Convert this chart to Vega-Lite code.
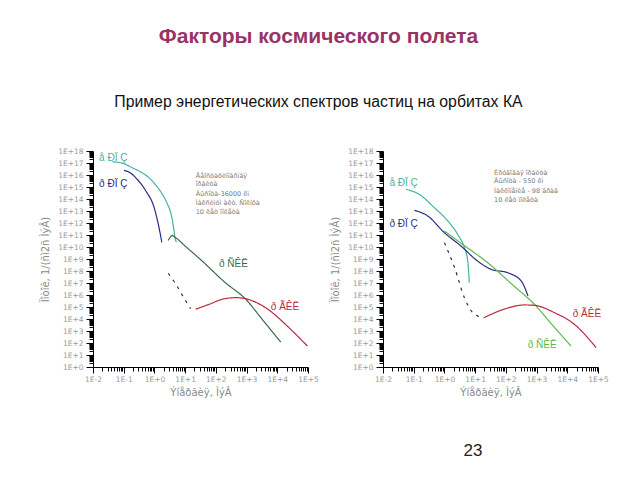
{
  "$schema": "https://vega.github.io/schema/vega-lite/v6.json",
  "padding": {"left": 40, "top": 26, "right": 5, "bottom": 5},
  "background": "white",
  "title": {
    "text": "Факторы космического полета",
    "subtitle": "Пример энергетических спектров частиц на орбитах КА",
    "anchor": "middle",
    "frame": "bounds",
    "dx": -6,
    "font": "Liberation Sans",
    "fontSize": 21,
    "fontWeight": "bold",
    "color": "#993366",
    "subtitleFont": "Liberation Sans",
    "subtitleFontSize": 15.8,
    "subtitleColor": "#111111",
    "subtitlePadding": 48,
    "offset": 37
  },
  "config": {
    "view": {"stroke": null},
    "axis": {
      "grid": false,
      "domainColor": "#000000",
      "domainWidth": 1,
      "tickColor": "#000000",
      "tickWidth": 1,
      "labelColor": "#9a9a9a",
      "labelFont": "DejaVu Sans",
      "labelFontSize": 7.5,
      "labelOverlap": false,
      "labelFlush": false,
      "labelBound": false,
      "titleColor": "#8a8a8a",
      "titleFont": "DejaVu Sans",
      "titleFontSize": 10,
      "titleFontWeight": "normal"
    }
  },
  "datasets": {
    "curves": [
      {"panel": "L", "series": "eRPZ", "E": 0.0427, "F": 1.26e17},
      {"panel": "L", "series": "eRPZ", "E": 0.1, "F": 8.9e16},
      {"panel": "L", "series": "eRPZ", "E": 0.19, "F": 4e16},
      {"panel": "L", "series": "eRPZ", "E": 0.355, "F": 1.8e16},
      {"panel": "L", "series": "eRPZ", "E": 0.66, "F": 6e15},
      {"panel": "L", "series": "eRPZ", "E": 1.12, "F": 1.4e15},
      {"panel": "L", "series": "eRPZ", "E": 1.82, "F": 2.45e14},
      {"panel": "L", "series": "eRPZ", "E": 2.63, "F": 4e13},
      {"panel": "L", "series": "eRPZ", "E": 3.39, "F": 7.2e12},
      {"panel": "L", "series": "eRPZ", "E": 3.98, "F": 1e12},
      {"panel": "L", "series": "eRPZ", "E": 4.37, "F": 2.1e11},
      {"panel": "L", "series": "eRPZ", "E": 4.68, "F": 6e10},
      {"panel": "L", "series": "eRPZ", "E": 5.25, "F": 2.5e10},
      {"panel": "L", "series": "pRPZ", "E": 0.102, "F": 2.45e16},
      {"panel": "L", "series": "pRPZ", "E": 0.158, "F": 1.6e16},
      {"panel": "L", "series": "pRPZ", "E": 0.245, "F": 6e15},
      {"panel": "L", "series": "pRPZ", "E": 0.525, "F": 4.7e14},
      {"panel": "L", "series": "pRPZ", "E": 0.98, "F": 1.9e13},
      {"panel": "L", "series": "pRPZ", "E": 1.41, "F": 4.1e11},
      {"panel": "L", "series": "pRPZ", "E": 1.74, "F": 2.45e10},
      {"panel": "L", "series": "pSKL", "E": 2.82, "F": 3.5e10},
      {"panel": "L", "series": "pSKL", "E": 3.8, "F": 8.9e10},
      {"panel": "L", "series": "pSKL", "E": 4.9, "F": 6e10},
      {"panel": "L", "series": "pSKL", "E": 10, "F": 1.2e10},
      {"panel": "L", "series": "pSKL", "E": 31.6, "F": 9.1e8},
      {"panel": "L", "series": "pSKL", "E": 200, "F": 1.1e7},
      {"panel": "L", "series": "pSKL", "E": 933, "F": 4.5e5},
      {"panel": "L", "series": "pSKL", "E": 3162, "F": 1e4},
      {"panel": "L", "series": "pSKL", "E": 12900, "F": 120},
      {"panel": "L", "series": "pGKL", "E": 21.9, "F": 6.5e4},
      {"panel": "L", "series": "pGKL", "E": 60, "F": 1.66e5},
      {"panel": "L", "series": "pGKL", "E": 162, "F": 4.4e5},
      {"panel": "L", "series": "pGKL", "E": 447, "F": 6e5},
      {"panel": "L", "series": "pGKL", "E": 933, "F": 4.9e5},
      {"panel": "L", "series": "pGKL", "E": 4170, "F": 8.7e4},
      {"panel": "L", "series": "pGKL", "E": 24000, "F": 1.9e3},
      {"panel": "L", "series": "pGKL", "E": 95500, "F": 56},
      {"panel": "L", "series": "dash", "E": 2.82, "F": 6.3e7},
      {"panel": "L", "series": "dash", "E": 5, "F": 7.9e6},
      {"panel": "L", "series": "dash", "E": 8.9, "F": 6.3e5},
      {"panel": "L", "series": "dash", "E": 15.1, "F": 7.1e4},
      {"panel": "R", "series": "eRPZ", "E": 0.056, "F": 6.5e14},
      {"panel": "R", "series": "eRPZ", "E": 0.151, "F": 2.45e14},
      {"panel": "R", "series": "eRPZ", "E": 0.468, "F": 1.9e13},
      {"panel": "R", "series": "eRPZ", "E": 1.29, "F": 1.48e12},
      {"panel": "R", "series": "eRPZ", "E": 2.69, "F": 1.15e11},
      {"panel": "R", "series": "eRPZ", "E": 4.47, "F": 8.7e9},
      {"panel": "R", "series": "eRPZ", "E": 5.75, "F": 6.8e8},
      {"panel": "R", "series": "eRPZ", "E": 6.46, "F": 1.07e7},
      {"panel": "R", "series": "pRPZ", "E": 0.105, "F": 1.15e13},
      {"panel": "R", "series": "pRPZ", "E": 0.288, "F": 3.8e12},
      {"panel": "R", "series": "pRPZ", "E": 1.0, "F": 1.55e11},
      {"panel": "R", "series": "pRPZ", "E": 3.47, "F": 1.2e10},
      {"panel": "R", "series": "pRPZ", "E": 12, "F": 6.8e8},
      {"panel": "R", "series": "pRPZ", "E": 33, "F": 1.38e8},
      {"panel": "R", "series": "pRPZ", "E": 115, "F": 7.2e7},
      {"panel": "R", "series": "pRPZ", "E": 316, "F": 1.48e7},
      {"panel": "R", "series": "pRPZ", "E": 525, "F": 8.3e5},
      {"panel": "R", "series": "pSKL", "E": 1.0, "F": 2.1e11},
      {"panel": "R", "series": "pSKL", "E": 5.0, "F": 1.05e10},
      {"panel": "R", "series": "pSKL", "E": 25.7, "F": 4.9e8},
      {"panel": "R", "series": "pSKL", "E": 158, "F": 7.8e6},
      {"panel": "R", "series": "pSKL", "E": 851, "F": 1.66e5},
      {"panel": "R", "series": "pSKL", "E": 3162, "F": 3.5e3},
      {"panel": "R", "series": "pSKL", "E": 13200, "F": 56},
      {"panel": "R", "series": "dash", "E": 1.0, "F": 2.3e10},
      {"panel": "R", "series": "dash", "E": 2.14, "F": 1.9e8},
      {"panel": "R", "series": "dash", "E": 4.47, "F": 6e5},
      {"panel": "R", "series": "dash", "E": 9.55, "F": 2.45e4},
      {"panel": "R", "series": "dash", "E": 19.5, "F": 1.3e4},
      {"panel": "R", "series": "pGKL", "E": 19.5, "F": 1.3e4},
      {"panel": "R", "series": "pGKL", "E": 87, "F": 6.5e4},
      {"panel": "R", "series": "pGKL", "E": 398, "F": 1.48e5},
      {"panel": "R", "series": "pGKL", "E": 851, "F": 1.38e5},
      {"panel": "R", "series": "pGKL", "E": 3800, "F": 3.4e4},
      {"panel": "R", "series": "pGKL", "E": 17000, "F": 3.6e3},
      {"panel": "R", "series": "pGKL", "E": 87000, "F": 41}
    ],
    "labels": [
      {"panel": "L", "series": "eRPZ", "E": 0.0158, "F": 2.5e17, "t": "å ÐÏ Ç"},
      {"panel": "L", "series": "pRPZ", "E": 0.0158, "F": 1.66e15, "t": "ð ÐÏ Ç"},
      {"panel": "L", "series": "pSKL", "E": 126, "F": 3.6e8, "t": "ð ÑÊË"},
      {"panel": "L", "series": "pGKL", "E": 6170, "F": 1.07e5, "t": "ð ÃÊË"},
      {"panel": "R", "series": "eRPZ", "E": 0.0162, "F": 2.3e15, "t": "å ÐÏ Ç"},
      {"panel": "R", "series": "pRPZ", "E": 0.0162, "F": 7.8e11, "t": "ð ÐÏ Ç"},
      {"panel": "R", "series": "pGKL", "E": 15100, "F": 2.45e4, "t": "ð ÃÊË"},
      {"panel": "R", "series": "pSKL", "E": 513, "F": 68, "t": "ð ÑÊË"}
    ],
    "notes": [
      {"panel": "L", "E": 22.1, "F": 8.3e15, "t": "Ãåîñòàöèîíàðíàÿ"},
      {"panel": "L", "E": 22.1, "F": 1.66e15, "t": "îðáèòà"},
      {"panel": "L", "E": 22.1, "F": 2.45e14, "t": "Âûñîòà-36000 êì"},
      {"panel": "L", "E": 22.1, "F": 4.4e13, "t": "Ìàêñèìóì àêò. Ñîëíöà"},
      {"panel": "L", "E": 22.1, "F": 8.3e12, "t": "10 ëåò ïîëåòà"},
      {"panel": "R", "E": 41.3, "F": 1.55e16, "t": "Êðóãîâàÿ îðáèòà"},
      {"panel": "R", "E": 41.3, "F": 3.16e15, "t": "Âûñîòà - 550 êì"},
      {"panel": "R", "E": 41.3, "F": 4.7e14, "t": "Íàêëîíåíèå - 98 ãðàä"},
      {"panel": "R", "E": 41.3, "F": 7.8e13, "t": "10 ëåò ïîëåòà"}
    ],
    "page": [
      {"E": 8.5, "F": 1e-7, "t": "23"}
    ]
  },
  "spacing": 11,
  "resolve": {"scale": {"color": "independent", "strokeDash": "independent"}},
  "hconcat": [
    {
      "width": 215,
      "height": 216,
      "encoding": {
        "x": {
          "field": "E", "type": "quantitative",
          "scale": {"type": "log", "domain": [0.01, 100000], "nice": false},
          "axis": {
            "title": "Ýíåðãèÿ, ÌýÂ",
            "titlePadding": 5,
            "labelPadding": 2,
            "values": [0.01,0.02,0.03,0.04,0.05,0.06,0.07,0.08,0.09,0.1,0.2,0.3,0.4,0.5,0.6,0.7,0.8,0.9,1,2,3,4,5,6,7,8,9,10,20,30,40,50,60,70,80,90,100,200,300,400,500,600,700,800,900,1000,2000,3000,4000,5000,6000,7000,8000,9000,10000,20000,30000,40000,50000,60000,70000,80000,90000,100000],
            "labelExpr": "abs(log(datum.value)/LN10 - round(log(datum.value)/LN10)) < 0.001 ? '1E' + (round(log(datum.value)/LN10) < 0 ? '-' : '+') + abs(round(log(datum.value)/LN10)) : ''",
            "tickSize": {"condition": {"test": "abs(log(datum.value)/LN10 - round(log(datum.value)/LN10)) < 0.001", "value": 6}, "value": 4}
          }
        },
        "y": {
          "field": "F", "type": "quantitative",
          "scale": {"type": "log", "domain": [1, 1e18], "nice": false},
          "axis": {
            "title": "Ïîòîê, 1/(ñì2ñ ÌýÂ)",
            "titlePadding": 7,
            "labelPadding": 3,
            "values": [1,2,3,4,5,6,7,8,9,10,20,30,40,50,60,70,80,90,100,200,300,400,500,600,700,800,900,1e3,2e3,3e3,4e3,5e3,6e3,7e3,8e3,9e3,1e4,2e4,3e4,4e4,5e4,6e4,7e4,8e4,9e4,1e5,2e5,3e5,4e5,5e5,6e5,7e5,8e5,9e5,1e6,2e6,3e6,4e6,5e6,6e6,7e6,8e6,9e6,1e7,2e7,3e7,4e7,5e7,6e7,7e7,8e7,9e7,1e8,2e8,3e8,4e8,5e8,6e8,7e8,8e8,9e8,1e9,2e9,3e9,4e9,5e9,6e9,7e9,8e9,9e9,1e10,2e10,3e10,4e10,5e10,6e10,7e10,8e10,9e10,1e11,2e11,3e11,4e11,5e11,6e11,7e11,8e11,9e11,1e12,2e12,3e12,4e12,5e12,6e12,7e12,8e12,9e12,1e13,2e13,3e13,4e13,5e13,6e13,7e13,8e13,9e13,1e14,2e14,3e14,4e14,5e14,6e14,7e14,8e14,9e14,1e15,2e15,3e15,4e15,5e15,6e15,7e15,8e15,9e15,1e16,2e16,3e16,4e16,5e16,6e16,7e16,8e16,9e16,1e17,2e17,3e17,4e17,5e17,6e17,7e17,8e17,9e17,1e18],
            "labelExpr": "abs(log(datum.value)/LN10 - round(log(datum.value)/LN10)) < 0.001 ? '1E+' + round(log(datum.value)/LN10) : ''",
            "tickSize": {"condition": {"test": "abs(log(datum.value)/LN10 - round(log(datum.value)/LN10)) < 0.001", "value": 7}, "value": 4}
          }
        }
      },
      "layer": [
        {
          "data": {"name": "curves"},
          "transform": [{"filter": "datum.panel == 'L'"}],
          "mark": {"type": "line", "interpolate": "monotone", "strokeWidth": 1.2, "clip": false},
          "encoding": {
            "color": {"field": "series", "type": "nominal", "legend": null,
              "scale": {"domain": ["eRPZ", "pRPZ", "pSKL", "pGKL", "dash"], "range": ["#45b3a3", "#2b2b85", "#3e6a4c", "#bb2a40", "#333333"]}},
            "strokeDash": {"field": "series", "type": "nominal", "legend": null,
              "scale": {"domain": ["eRPZ", "pRPZ", "pSKL", "pGKL", "dash"], "range": [[1, 0], [1, 0], [1, 0], [1, 0], [3, 5]]}}
          }
        },
        {
          "data": {"name": "labels"},
          "transform": [{"filter": "datum.panel == 'L'"}],
          "mark": {"type": "text", "align": "left", "baseline": "middle", "font": "Liberation Sans", "fontSize": 10, "clip": false},
          "encoding": {
            "text": {"field": "t"},
            "color": {"field": "series", "type": "nominal", "legend": null,
              "scale": {"domain": ["eRPZ", "pRPZ", "pSKL", "pGKL", "dash"], "range": ["#45b3a3", "#2b2b85", "#3a8a3a", "#bb2a40", "#333333"]}}
          }
        },
        {
          "data": {"name": "notes"},
          "transform": [{"filter": "datum.panel == 'L'"}],
          "mark": {"type": "text", "align": "left", "baseline": "middle", "font": "DejaVu Sans", "fontSize": 6.5, "color": "#7a7a7a", "clip": false},
          "encoding": {"text": {"field": "t"}}
        }
      ]
    },
    {
      "width": 215,
      "height": 216,
      "encoding": {
        "x": {
          "field": "E", "type": "quantitative",
          "scale": {"type": "log", "domain": [0.01, 100000], "nice": false},
          "axis": {
            "title": "Ýíåðãèÿ, ÌýÂ",
            "titlePadding": 5,
            "labelPadding": 2,
            "values": [0.01,0.02,0.03,0.04,0.05,0.06,0.07,0.08,0.09,0.1,0.2,0.3,0.4,0.5,0.6,0.7,0.8,0.9,1,2,3,4,5,6,7,8,9,10,20,30,40,50,60,70,80,90,100,200,300,400,500,600,700,800,900,1000,2000,3000,4000,5000,6000,7000,8000,9000,10000,20000,30000,40000,50000,60000,70000,80000,90000,100000],
            "labelExpr": "abs(log(datum.value)/LN10 - round(log(datum.value)/LN10)) < 0.001 ? '1E' + (round(log(datum.value)/LN10) < 0 ? '-' : '+') + abs(round(log(datum.value)/LN10)) : ''",
            "tickSize": {"condition": {"test": "abs(log(datum.value)/LN10 - round(log(datum.value)/LN10)) < 0.001", "value": 6}, "value": 4}
          }
        },
        "y": {
          "field": "F", "type": "quantitative",
          "scale": {"type": "log", "domain": [1, 1e18], "nice": false},
          "axis": {
            "title": "Ïîòîê, 1/(ñì2ñ ÌýÂ)",
            "titlePadding": 7,
            "labelPadding": 3,
            "values": [1,2,3,4,5,6,7,8,9,10,20,30,40,50,60,70,80,90,100,200,300,400,500,600,700,800,900,1e3,2e3,3e3,4e3,5e3,6e3,7e3,8e3,9e3,1e4,2e4,3e4,4e4,5e4,6e4,7e4,8e4,9e4,1e5,2e5,3e5,4e5,5e5,6e5,7e5,8e5,9e5,1e6,2e6,3e6,4e6,5e6,6e6,7e6,8e6,9e6,1e7,2e7,3e7,4e7,5e7,6e7,7e7,8e7,9e7,1e8,2e8,3e8,4e8,5e8,6e8,7e8,8e8,9e8,1e9,2e9,3e9,4e9,5e9,6e9,7e9,8e9,9e9,1e10,2e10,3e10,4e10,5e10,6e10,7e10,8e10,9e10,1e11,2e11,3e11,4e11,5e11,6e11,7e11,8e11,9e11,1e12,2e12,3e12,4e12,5e12,6e12,7e12,8e12,9e12,1e13,2e13,3e13,4e13,5e13,6e13,7e13,8e13,9e13,1e14,2e14,3e14,4e14,5e14,6e14,7e14,8e14,9e14,1e15,2e15,3e15,4e15,5e15,6e15,7e15,8e15,9e15,1e16,2e16,3e16,4e16,5e16,6e16,7e16,8e16,9e16,1e17,2e17,3e17,4e17,5e17,6e17,7e17,8e17,9e17,1e18],
            "labelExpr": "abs(log(datum.value)/LN10 - round(log(datum.value)/LN10)) < 0.001 ? '1E+' + round(log(datum.value)/LN10) : ''",
            "tickSize": {"condition": {"test": "abs(log(datum.value)/LN10 - round(log(datum.value)/LN10)) < 0.001", "value": 7}, "value": 4}
          }
        }
      },
      "layer": [
        {
          "data": {"name": "curves"},
          "transform": [{"filter": "datum.panel == 'R'"}],
          "mark": {"type": "line", "interpolate": "monotone", "strokeWidth": 1.2, "clip": false},
          "encoding": {
            "color": {"field": "series", "type": "nominal", "legend": null,
              "scale": {"domain": ["eRPZ", "pRPZ", "pSKL", "pGKL", "dash"], "range": ["#45b3a3", "#2b2b85", "#5cb84a", "#bb2a40", "#333333"]}},
            "strokeDash": {"field": "series", "type": "nominal", "legend": null,
              "scale": {"domain": ["eRPZ", "pRPZ", "pSKL", "pGKL", "dash"], "range": [[1, 0], [1, 0], [1, 0], [1, 0], [3, 5]]}}
          }
        },
        {
          "data": {"name": "labels"},
          "transform": [{"filter": "datum.panel == 'R'"}],
          "mark": {"type": "text", "align": "left", "baseline": "middle", "font": "Liberation Sans", "fontSize": 10, "clip": false},
          "encoding": {
            "text": {"field": "t"},
            "color": {"field": "series", "type": "nominal", "legend": null,
              "scale": {"domain": ["eRPZ", "pRPZ", "pSKL", "pGKL", "dash"], "range": ["#45b3a3", "#2b2b85", "#5cb84a", "#bb2a40", "#333333"]}}
          }
        },
        {
          "data": {"name": "notes"},
          "transform": [{"filter": "datum.panel == 'R'"}],
          "mark": {"type": "text", "align": "left", "baseline": "middle", "font": "DejaVu Sans", "fontSize": 6.5, "color": "#7a7a7a", "clip": false},
          "encoding": {"text": {"field": "t"}}
        },
        {
          "data": {"name": "page"},
          "mark": {"type": "text", "align": "center", "baseline": "middle", "font": "Liberation Sans", "fontSize": 17, "color": "#222222", "clip": false},
          "encoding": {"text": {"field": "t"}}
        }
      ]
    }
  ]
}
